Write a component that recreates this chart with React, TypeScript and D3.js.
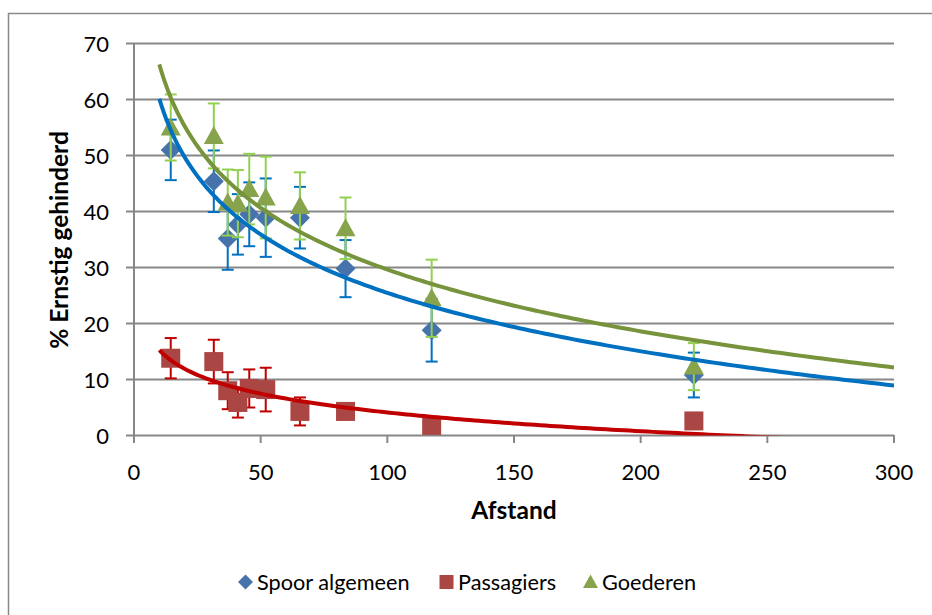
import React from "react";
import * as d3 from "d3";

const distances = [14.5, 31.5, 37, 41, 45.5, 52, 65.5, 83.5, 117.5, 221];
const spoorValues = [51, 45.4, 35.2, 37.7, 39.5, 38.9, 38.9, 29.8, 18.8, 10.8];
const spoorErrors = [5.4, 5.5, 5.6, 5.4, 5.7, 7, 5.5, 5.1, 5.6, 4];
const passagiersValues = [13.8, 13.2, 8, 5.9, 8.4, 8.2, 4.3, 4.3, 1.8, 2.6];
const passagiersErrors = [3.6, 3.9, 3.3, 2.7, 3.4, 3.9, 2.5, 1.4, 1, 1.2];
const goederenValues = [55, 53.5, 41.6, 41.4, 44, 42.5, 41, 37, 24.5, 12.3];
const goederenErrors = [5.9, 5.8, 5.9, 6, 6.3, 7.3, 6, 5.5, 6.9, 4.2];
const xTicks = [0, 50, 100, 150, 200, 250, 300];
const yTicks = [0, 10, 20, 30, 40, 50, 60, 70];
const trendRange = [10, 300];
const seriesNames = ["Spoor algemeen", "Passagiers", "Goederen"];

const FONT = "Lato, 'Open Sans', sans-serif";

function logFit(xs: number[], ys: number[]) {
  const lx = xs.map((x) => Math.log(x));
  const mx = d3.mean(lx) as number;
  const my = d3.mean(ys) as number;
  let sxy = 0, sxx = 0;
  lx.forEach((l, i) => {
    sxy += (l - mx) * (ys[i] - my);
    sxx += (l - mx) * (l - mx);
  });
  const a = sxy / sxx;
  const b = my - a * mx;
  return (x: number) => a * Math.log(x) + b;
}

export default function App() {
  const W = 932, H = 615;
  const x = d3.scaleLinear().domain([0, 300]).range([134, 894]);
  const y = d3.scaleLinear().domain([0, 70]).range([435.5, 43.5]);

  const series = [
    { name: seriesNames[0], vals: spoorValues, errs: spoorErrors, marker: "diamond", fill: "#4673AC", err: "#0070C0", trend: "#0070C0" },
    { name: seriesNames[1], vals: passagiersValues, errs: passagiersErrors, marker: "square", fill: "#AA4643", err: "#C00000", trend: "#C00000" },
    { name: seriesNames[2], vals: goederenValues, errs: goederenErrors, marker: "triangle", fill: "#87A34B", err: "#92D050", trend: "#77933C" },
  ];

  const marker = (type: string, cx: number, cy: number, fill: string, s: number, key?: any) => {
    if (type === "diamond") {
      const r = s / 2;
      return <path key={key} d={`M${cx},${cy - r}L${cx + r},${cy}L${cx},${cy + r}L${cx - r},${cy}Z`} fill={fill} />;
    }
    if (type === "square") {
      const r = s / 2 - 0.5;
      return <rect key={key} x={cx - r} y={cy - r} width={2 * r} height={2 * r} fill={fill} />;
    }
    const r = s / 2;
    return <path key={key} d={`M${cx},${cy - r}L${cx + r},${cy + r * 0.8}L${cx - r},${cy + r * 0.8}Z`} fill={fill} />;
  };

  const trendX = d3.range(0, 201).map((i) => trendRange[0] + (trendRange[1] - trendRange[0]) * (i / 200) ** 2);
  const line = d3.line<number[]>().x((d) => x(d[0])).y((d) => y(d[1]));

  const legendItems = [
    { mx: 245.5, tx: 257 },
    { mx: 446.5, tx: 458 },
    { mx: 590.5, tx: 602 },
  ];

  return (
    <svg width={W} height={H} style={{ position: "absolute", left: 0, top: 0, background: "#fff" }} fontFamily={FONT}>
      <defs>
        <clipPath id="plot">
          <rect x={134} y={43.5} width={760} height={392} />
        </clipPath>
      </defs>
      <rect x={8.5} y={13.5} width={W + 10} height={H + 10} fill="none" stroke="#898989" strokeWidth={1.5} />
      {yTicks.map((t) => (
        <g key={"y" + t}>
          <line x1={126} x2={894} y1={y(t)} y2={y(t)} stroke="#878787" strokeWidth={2} />
          <text x={109} y={y(t) + 8} textAnchor="end" fontSize={22} fill="#000">{t}</text>
        </g>
      ))}
      <line x1={134} x2={134} y1={43.5} y2={436} stroke="#878787" strokeWidth={2} />
      {xTicks.map((t) => (
        <g key={"x" + t}>
          <line x1={x(t)} x2={x(t)} y1={435} y2={443} stroke="#878787" strokeWidth={2} />
          <text x={x(t)} y={479.5} textAnchor="middle" fontSize={22} fill="#000">{t}</text>
        </g>
      ))}
      <text x={514} y={519} textAnchor="middle" fontSize={24.5} fontWeight="bold">Afstand</text>
      <text transform="translate(68,240) rotate(-90)" textAnchor="middle" fontSize={24.5} fontWeight="bold">% Ernstig gehinderd</text>

      {series.map((s, si) => (
        <g key={"s" + si}>
          {s.vals.map((v, i) => {
            const cx = x(distances[i]);
            const y1 = y(v + s.errs[i]);
            const y2 = y(v - s.errs[i]);
            return (
              <g key={i} stroke={s.err} strokeWidth={2}>
                <line x1={cx} x2={cx} y1={y1} y2={y2} />
                <line x1={cx - 6} x2={cx + 6} y1={y1} y2={y1} />
                <line x1={cx - 6} x2={cx + 6} y1={y2} y2={y2} />
              </g>
            );
          })}
          {s.vals.map((v, i) => marker(s.marker, x(distances[i]), y(v), s.fill, 20, i))}
        </g>
      ))}

      <g clipPath="url(#plot)">
        {series.map((s, si) => {
          const f = logFit(distances, s.vals);
          const pts = trendX.map((t) => [t, f(t)]);
          return <path key={"t" + si} d={line(pts) as string} fill="none" stroke={s.trend} strokeWidth={4} />;
        })}
      </g>

      {series.map((s, si) => (
        <g key={"l" + si}>
          {marker(s.marker, legendItems[si].mx, 582, s.fill, 15)}
          <text x={legendItems[si].tx} y={590} fontSize={21.7} fill="#000">{s.name}</text>
        </g>
      ))}
    </svg>
  );
}
